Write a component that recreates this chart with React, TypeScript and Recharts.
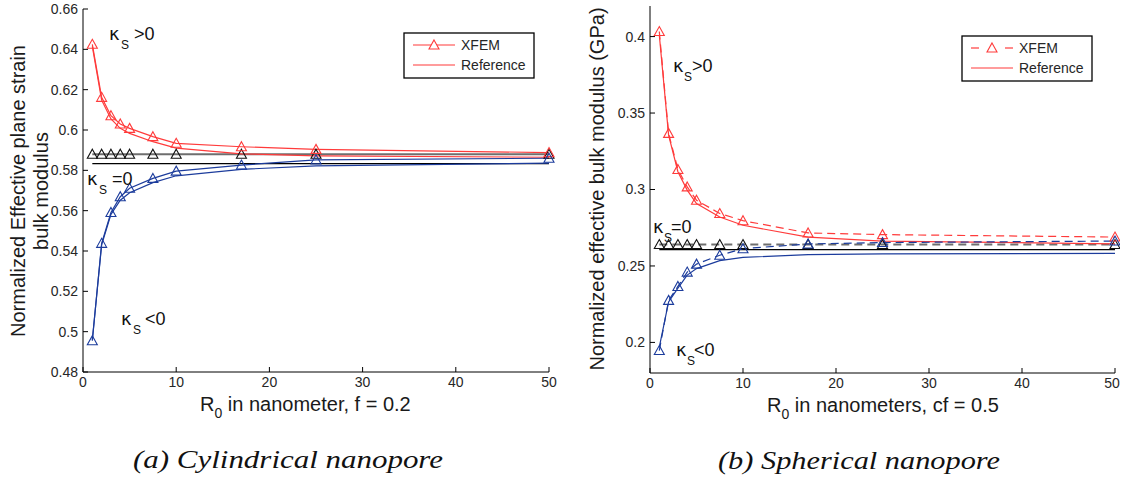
import { LineChart, Line, XAxis, YAxis } from "recharts";

// Pore radius R0 (nm) at which both studies were sampled
const radii = [1, 2, 3, 4, 5, 7.5, 10, 17, 25, 50];

// (a) cylindrical nanopore, f = 0.2
const cylXfemPos = [0.6425, 0.6162, 0.6071, 0.603, 0.6008, 0.5967, 0.5934, 0.5917, 0.5904, 0.5888];
const cylRefPos = [0.6415, 0.6148, 0.6055, 0.6008, 0.5983, 0.5942, 0.591, 0.5882, 0.5872, 0.5865];
const cylXfemZero = [0.588, 0.588, 0.588, 0.588, 0.588, 0.588, 0.588, 0.588, 0.588, 0.588];
const cylRefZero = [0.5833, 0.5833, 0.5833, 0.5833, 0.5833, 0.5833, 0.5833, 0.5833, 0.5833, 0.5833];
const cylXfemNeg = [0.4955, 0.5438, 0.5591, 0.5669, 0.5711, 0.576, 0.5796, 0.5826, 0.5852, 0.586];
const cylRefNeg = [0.496, 0.543, 0.5582, 0.5652, 0.5689, 0.5739, 0.5773, 0.5805, 0.5822, 0.5836];

// (b) spherical nanopore, cf = 0.5
const sphXfemPos = [0.4033, 0.3367, 0.3131, 0.3017, 0.293, 0.2843, 0.2796, 0.2716, 0.2705, 0.2689];
const sphRefPos = [0.401, 0.3356, 0.3116, 0.2996, 0.2908, 0.282, 0.2766, 0.2688, 0.2663, 0.2645];
const sphXfemZero = [0.264, 0.264, 0.264, 0.264, 0.264, 0.264, 0.264, 0.264, 0.264, 0.264];
const sphRefZero = [0.2607, 0.2607, 0.2607, 0.2607, 0.2607, 0.2607, 0.2607, 0.2607, 0.2607, 0.2607];
const sphXfemNeg = [0.1947, 0.2275, 0.2366, 0.246, 0.2512, 0.257, 0.2613, 0.2644, 0.2653, 0.2663];
const sphRefNeg = [0.197, 0.2265, 0.2355, 0.244, 0.2483, 0.2535, 0.2556, 0.2574, 0.2579, 0.2582];

const xTicks = [0, 10, 20, 30, 40, 50];
const cylYTicks = [0.48, 0.5, 0.52, 0.54, 0.56, 0.58, 0.6, 0.62, 0.64, 0.66];
const sphYTicks = [0.2, 0.25, 0.3, 0.35, 0.4];

const toRows = (cols: Record<string, number[]>) =>
  radii.map((r, i) => {
    const row: Record<string, number> = { r };
    for (const k of Object.keys(cols)) row[k] = cols[k][i];
    return row;
  });

const cylRows = toRows({
  xfemPos: cylXfemPos, refPos: cylRefPos,
  xfemZero: cylXfemZero, refZero: cylRefZero,
  xfemNeg: cylXfemNeg, refNeg: cylRefNeg,
});
const sphRows = toRows({
  xfemPos: sphXfemPos, refPos: sphRefPos,
  xfemZero: sphXfemZero, refZero: sphRefZero,
  xfemNeg: sphXfemNeg, refNeg: sphRefNeg,
});

const SANS = "'Liberation Sans', Arial, sans-serif";
const SERIF = "'Liberation Serif', 'Times New Roman', serif";
const RED = "#ff3b3b";
const BLUE = "#1c3c9c";
const GRAY = "#6e6e6e";

const fmt = (v: number) => String(+v.toFixed(2));
const tickStyle = { fill: "#262626", fontSize: 14, fontFamily: SANS };

// bottom tick label, kept inside the page at the right edge
const XTick = (maxX: number) => (props: any) => {
  const { x, y, payload } = props;
  return (
    <text x={Math.min(x, maxX)} y={y} dy="0.71em" textAnchor="middle" {...tickStyle}>
      {payload.value}
    </text>
  );
};

// open upward triangle, matlab '^' marker
const triangle = (color: string) => (props: any) => {
  const { cx, cy, index } = props;
  if (cx == null || cy == null) return <g key={index} />;
  return (
    <path
      key={index}
      d={`M${cx},${cy - 5} L${cx + 5},${cy + 4} L${cx - 5},${cy + 4} Z`}
      fill="none"
      stroke={color}
      strokeWidth={1.1}
    />
  );
};

function Panel({ rows, yDomain, yTicks, margin, dashed }: {
  rows: Record<string, number>[];
  yDomain: [number, number];
  yTicks: number[];
  margin: { top: number; right: number; bottom: number; left: number };
  dashed: boolean;
}) {
  const dash = dashed ? "8 5" : undefined;
  return (
    <LineChart width={560} height={420} data={rows} margin={margin}>
      <XAxis dataKey="r" type="number" domain={[0, 50]} ticks={xTicks} interval={0}
        height={30} tickSize={-5} tickMargin={10} tick={XTick(552)}
        axisLine={{ stroke: "#000" }} tickLine={{ stroke: "#000" }} />
      <XAxis xAxisId="top" orientation="top" dataKey="r" type="number" domain={[0, 50]}
        ticks={xTicks} interval={0} height={0} tickSize={-5} tick={false}
        axisLine={{ stroke: "#000" }} tickLine={{ stroke: "#000" }} />
      <YAxis type="number" domain={yDomain} ticks={yTicks} interval={0} width={50}
        tickSize={-5} tickMargin={10} tick={tickStyle} tickFormatter={fmt}
        axisLine={{ stroke: "#000" }} tickLine={{ stroke: "#000" }} />
      <YAxis yAxisId="right" orientation="right" type="number" domain={yDomain}
        ticks={yTicks} interval={0} width={0} tickSize={-5} tick={false}
        axisLine={{ stroke: "#000" }} tickLine={{ stroke: "#000" }} />

      <Line dataKey="refZero" stroke="#000" strokeWidth={1.2} dot={false} isAnimationActive={false} />
      <Line dataKey="xfemZero" stroke={GRAY} strokeWidth={2} strokeDasharray={dash}
        dot={triangle("#111")} isAnimationActive={false} />
      <Line dataKey="refPos" stroke={RED} strokeWidth={1.2} dot={false} isAnimationActive={false} />
      <Line dataKey="xfemPos" stroke={RED} strokeWidth={1.2} strokeDasharray={dash}
        dot={triangle(RED)} isAnimationActive={false} />
      <Line dataKey="refNeg" stroke={BLUE} strokeWidth={1.2} dot={false} isAnimationActive={false} />
      <Line dataKey="xfemNeg" stroke={BLUE} strokeWidth={1.2} strokeDasharray={dash}
        dot={triangle(BLUE)} isAnimationActive={false} />
    </LineChart>
  );
}

function Kappa({ x, y, sub, rest, restX }: { x: number; y: number; sub: number; rest: string; restX: number }) {
  return (
    <text fontFamily={SANS} fill="#111">
      <tspan x={x} y={y} fontSize={18} fontFamily="'DejaVu Sans', sans-serif">κ</tspan>
      <tspan x={sub} y={y + 9} fontSize={12}>S</tspan>
      <tspan x={restX} y={y} fontSize={18}>{rest}</tspan>
    </text>
  );
}

function Legend({ x, y, dashed }: { x: number; y: number; dashed: boolean }) {
  const l0 = x + 9, l1 = x + 51, mid = (l0 + l1) / 2;
  return (
    <g>
      <rect x={x} y={y} width={130} height={45} fill="#fff" stroke="#000" strokeWidth={1.3} />
      {dashed ? (
        <g stroke={RED} strokeWidth={1.2}>
          <line x1={l0} y1={y + 12} x2={l0 + 8} y2={y + 12} />
          <line x1={l1 - 8} y1={y + 12} x2={l1} y2={y + 12} />
        </g>
      ) : (
        <line x1={l0} y1={y + 12} x2={l1} y2={y + 12} stroke={RED} strokeWidth={1.2} />
      )}
      <path d={`M${mid},${y + 7} L${mid + 5},${y + 16} L${mid - 5},${y + 16} Z`} fill="#fff" stroke={RED} strokeWidth={1.1} />
      <line x1={l0} y1={y + 32} x2={l1} y2={y + 32} stroke={RED} strokeWidth={1.2} />
      <text x={l1 + 6} y={y + 17} fontSize={14} fontFamily={SANS} fill="#262626">XFEM</text>
      <text x={l1 + 6} y={y + 37} fontSize={14} fontFamily={SANS} fill="#262626">Reference</text>
    </g>
  );
}

export default function App() {
  return (
    <div style={{ position: "absolute", left: 0, top: 0, width: 1122, height: 485, background: "#fff", overflow: "hidden" }}>
      <div style={{ position: "absolute", left: 0, top: 0 }}>
        <Panel rows={cylRows} yDomain={[0.48, 0.66]} yTicks={cylYTicks}
          margin={{ top: 9, right: 11, bottom: 18, left: 33 }} dashed={false} />
      </div>
      <div style={{ position: "absolute", left: 560, top: 0 }}>
        <Panel rows={sphRows} yDomain={[0.18, 0.42]} yTicks={sphYTicks}
          margin={{ top: 6, right: 5, bottom: 17, left: 40 }} dashed={true} />
      </div>

      <svg width={1122} height={485} style={{ position: "absolute", left: 0, top: 0, pointerEvents: "none" }}>
        {/* axis titles */}
        <text x={200} y={411} fontSize={20} fontFamily={SANS} fill="#1a1a1a">
          R<tspan dy={7} fontSize={14}>0</tspan><tspan dy={-7}> in nanometer, f = 0.2</tspan>
        </text>
        <text x={767} y={412} fontSize={20} fontFamily={SANS} fill="#1a1a1a">
          R<tspan dy={7} fontSize={14}>0</tspan><tspan dy={-7}> in nanometers, cf = 0.5</tspan>
        </text>
        <text transform="rotate(-90, 25, 191)" x={25} y={191} textAnchor="middle" fontSize={20} fontFamily={SANS} fill="#1a1a1a">
          Normalized Effective plane strain
        </text>
        <text transform="rotate(-90, 48, 191)" x={48} y={191} textAnchor="middle" fontSize={20} fontFamily={SANS} fill="#1a1a1a">
          bulk modulus
        </text>
        <text transform="rotate(-90, 604, 189)" x={604} y={189} textAnchor="middle" fontSize={20} fontFamily={SANS} fill="#1a1a1a">
          Normalized effective bulk modulus (GPa)
        </text>

        {/* surface modulus annotations */}
        <Kappa x={109} y={40} sub={121} rest=">0" restX={134} />
        <Kappa x={87} y={185} sub={99} rest="=0" restX={112} />
        <Kappa x={121} y={325} sub={133} rest="<0" restX={145} />
        <Kappa x={673} y={72} sub={684} rest=">0" restX={692} />
        <Kappa x={653} y={233} sub={664} rest="=0" restX={671} />
        <Kappa x={676} y={356} sub={687} rest="<0" restX={694} />

        <Legend x={404} y={33} dashed={false} />
        <Legend x={962} y={36} dashed={true} />

        {/* sub-figure captions */}
        <text x={133} y={468} fontSize={25} fontStyle="italic" fontFamily={SERIF} fill="#111"
          textLength={310} lengthAdjust="spacingAndGlyphs">
          (a) Cylindrical nanopore
        </text>
        <text x={718} y={469} fontSize={25} fontStyle="italic" fontFamily={SERIF} fill="#111"
          textLength={282} lengthAdjust="spacingAndGlyphs">
          (b) Spherical nanopore
        </text>
      </svg>
    </div>
  );
}
